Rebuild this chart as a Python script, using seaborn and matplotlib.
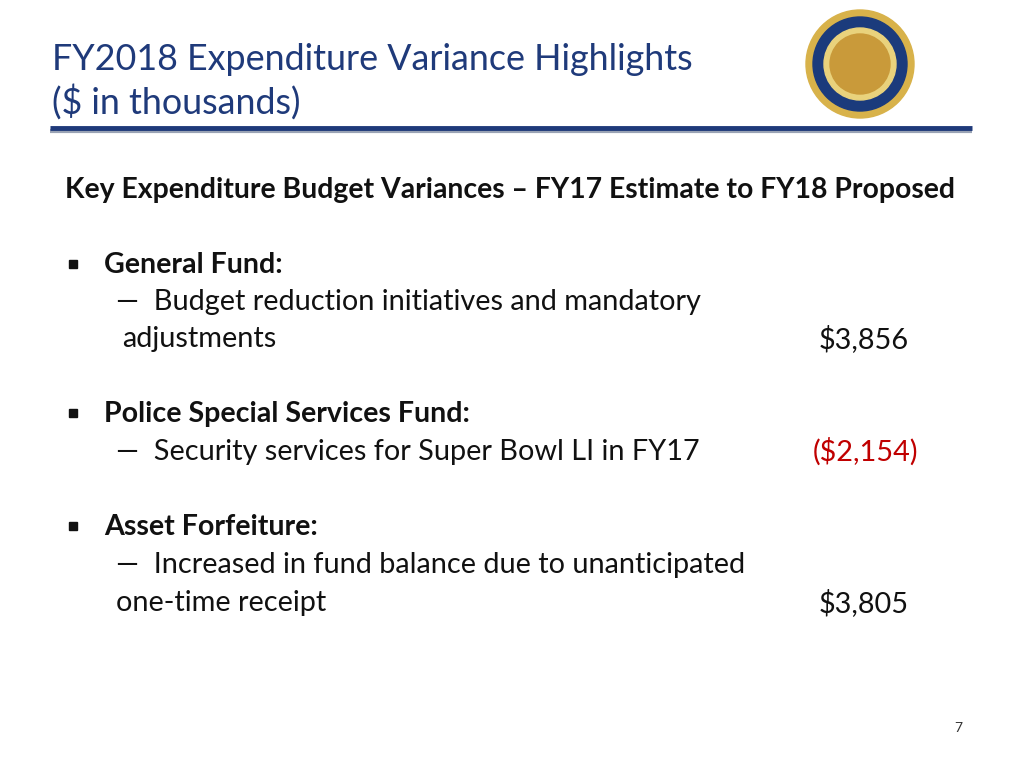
import matplotlib
matplotlib.use("Agg")
import matplotlib.pyplot as plt
import seaborn as sns
from matplotlib.patches import Circle, Rectangle

sns.set_theme(style="white")

title_lines = ["FY2018 Expenditure Variance Highlights", "($ in thousands)"]
heading = "Key Expenditure Budget Variances – FY17 Estimate to FY18 Proposed"
funds = ["General Fund:", "Police Special Services Fund:", "Asset Forfeiture:"]
desc_line1 = ["Budget reduction initiatives and mandatory",
              "Security services for Super Bowl LI in FY17",
              "Increased in fund balance due to unanticipated"]
desc_line2 = ["adjustments", None, "one-time receipt"]
variances = [3856, -2154, 3805]
page = "7"

W, H = 1024, 768
fig = plt.figure(figsize=(W/100, H/100), dpi=100)
ax = fig.add_axes([0, 0, 1, 1])
ax.set_xlim(0, W); ax.set_ylim(H, 0); ax.axis("off")

FONT = "Lato"
blue = "#1F3A7A"
TS, HS, FS, BS = 25.8, 20.4, 20.6, 20.8

ax.text(52, 60, title_lines[0], fontsize=TS, color=blue, family=FONT, va="center")
ax.text(52, 102, title_lines[1], fontsize=TS, color=blue, family=FONT, va="center")
ax.plot([50, 972], [131, 131], color="#9aa3b5", lw=3, solid_capstyle="butt")
ax.plot([50, 972], [128, 128], color=blue, lw=3.5, solid_capstyle="butt")

# seal
cx, cy = 860, 64
ax.add_patch(Circle((cx, cy), 54, color="#d8b24a"))
ax.add_patch(Circle((cx, cy), 47, color="#1b3b7c"))
ax.add_patch(Circle((cx, cy), 36, color="#e9d27c"))
ax.add_patch(Circle((cx, cy), 30, color="#c99a3a"))

ax.text(65, 190, heading, fontsize=HS, weight="bold", family=FONT, va="center", color="#111")

ys = [(265, 302, 339), (414, 452, None), (527, 565, 603)]
for i, (yf, y1, y2) in enumerate(ys):
    ax.add_patch(Rectangle((69, yf - 5), 8, 8, color="#111"))
    ax.text(104, yf, funds[i], fontsize=FS, weight="bold", family=FONT, va="center", color="#111")
    ax.text(116, y1, "—  " + desc_line1[i], fontsize=BS, family=FONT, va="center", color="#111")
    v = variances[i]
    vy = y2 if y2 is not None else y1
    if desc_line2[i]:
        ax.text(122 if i == 0 else 116, y2, desc_line2[i], fontsize=BS, family=FONT, va="center", color="#111")
    if v < 0:
        ax.text(918, vy, f"(${-v:,})", fontsize=BS, family=FONT, va="center", ha="right", color="#c00000")
    else:
        ax.text(909, vy, f"${v:,}", fontsize=BS, family=FONT, va="center", ha="right", color="#111")

ax.text(958, 728, page, fontsize=10, family=FONT, va="center", ha="center", color="#333")
fig.savefig("out.png", dpi=100)
